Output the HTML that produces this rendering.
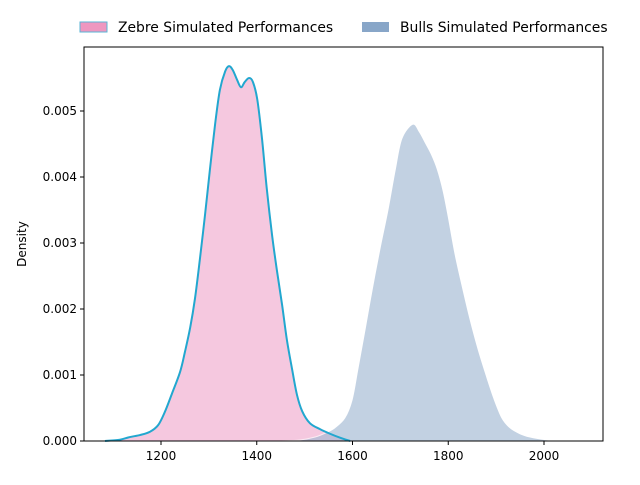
<!DOCTYPE html>
<html><head><meta charset="utf-8"><style>
body{margin:0;background:#fff;}
svg{font-family:"DejaVu Sans","Liberation Sans",sans-serif;}
</style></head><body>
<svg id="chart" width="640" height="480">
<g id="plot"></g>
<g id="axes"></g>
<g>
  <rect x="80" y="22" width="27" height="10" fill="#ee97c0" stroke="#5ab4d6" stroke-width="1"/>
  <text x="118" y="32" font-size="13.9">Zebre Simulated Performances</text>
  <rect x="362" y="22" width="27" height="10" fill="#88a6c8"/>
  <text x="400" y="32" font-size="13.9">Bulls Simulated Performances</text>
</g>
</svg>
<script>
const zebreX=[1083,1114,1135,1156,1177,1194,1208,1223,1240,1250,1261,1271,1281,1292,1302,1313,1323,1334,1342,1350,1359,1367,1375,1384,1392,1401,1411,1421,1432,1442,1453,1463,1474,1484,1495,1511,1532,1553,1574,1595];
const zebreY=[0,0.00002,0.00006,0.00009,0.00014,0.00024,0.00044,0.00072,0.00105,0.00135,0.00172,0.00216,0.00274,0.00343,0.0041,0.0048,0.00532,0.0056,0.00568,0.00562,0.00547,0.00536,0.00544,0.0055,0.00544,0.00518,0.00458,0.00382,0.00312,0.00259,0.00206,0.00153,0.00108,0.0007,0.00045,0.00027,0.00018,0.00011,0.00005,0];
const bullsX=[1449,1490,1522,1543,1563,1584,1599,1611,1626,1641,1657,1674,1689,1703,1726,1740,1752,1765,1777,1789,1800,1814,1829,1845,1862,1879,1895,1912,1929,1950,1971,2002,2033];
const bullsY=[0,0.000015,0.00006,0.00012,0.0002,0.00035,0.00062,0.00108,0.00168,0.00229,0.0029,0.0035,0.0041,0.00458,0.0048,0.00468,0.00452,0.00434,0.00412,0.0038,0.0034,0.00284,0.00235,0.00186,0.0014,0.001,0.00065,0.00035,0.0002,0.00011,0.00006,0.00002,0];
const xTicks=[1200,1400,1600,1800,2000];
const yTicks=[0,0.001,0.002,0.003,0.004,0.005];
const L=84,R=603,T=47,B=441;
const sx=v=>161+(v-1200)*95.75/200;
const sy=v=>B-v*66000;
const NS="http://www.w3.org/2000/svg";
function mk(tag,attrs,parent){const e=document.createElementNS(NS,tag);for(const k in attrs)e.setAttribute(k,attrs[k]);parent.appendChild(e);return e;}
function smooth(xs,ys){const p=xs.map((x,i)=>[sx(x),sy(ys[i])]);let d="M"+p[0][0]+","+p[0][1];
for(let i=0;i<p.length-1;i++){const p0=p[Math.max(0,i-1)],p1=p[i],p2=p[i+1],p3=p[Math.min(p.length-1,i+2)];
const c1=[p1[0]+(p2[0]-p0[0])/6,p1[1]+(p2[1]-p0[1])/6],c2=[p2[0]-(p3[0]-p1[0])/6,p2[1]-(p3[1]-p1[1])/6];
d+=` C${c1[0]},${Math.min(B,c1[1])} ${c2[0]},${Math.min(B,c2[1])} ${p2[0]},${p2[1]}`;}return d;}
const plot=document.getElementById('plot');
const zd=smooth(zebreX,zebreY),bd=smooth(bullsX,bullsY);
const zf=mk('path',{d:zd+`L${sx(zebreX[zebreX.length-1])},${B} L${sx(zebreX[0])},${B}Z`,fill:'#f5c8df'},plot);


const bf=mk('path',{d:bd+`L${sx(bullsX[bullsX.length-1])},${B} L${sx(bullsX[0])},${B}Z`,fill:'#a3b9d3',opacity:'0.65',stroke:'#ffffff','stroke-width':'1'},plot);


const zl=mk('path',{d:zd,fill:'none',stroke:'#22a7cf','stroke-width':'2'},plot);


const ax=document.getElementById('axes');
const fr=mk('rect',{x:L,y:T,width:R-L,height:B-T,fill:'none',stroke:'#000','stroke-width':'1'},ax);


xTicks.forEach(v=>{const x=sx(v);
const t=mk('line',{x1:x,x2:x,y1:B,y2:B+4,stroke:'#000'},ax);


const l=mk('text',{x:x,y:B+19,'font-size':'12','text-anchor':'middle'},ax);l.textContent=v;

});
yTicks.forEach(v=>{const y=sy(v);
const t=mk('line',{x1:L-4,x2:L,y1:y,y2:y,stroke:'#000'},ax);


const l=mk('text',{x:L-7,y:y+4,'font-size':'12','text-anchor':'end'},ax);l.textContent=v.toFixed(3);

});
const yl=mk('text',{x:0,y:0,'font-size':'12','text-anchor':'middle',transform:'translate(26,244) rotate(-90)'},ax);yl.textContent='Density';


</script>
</body></html>
